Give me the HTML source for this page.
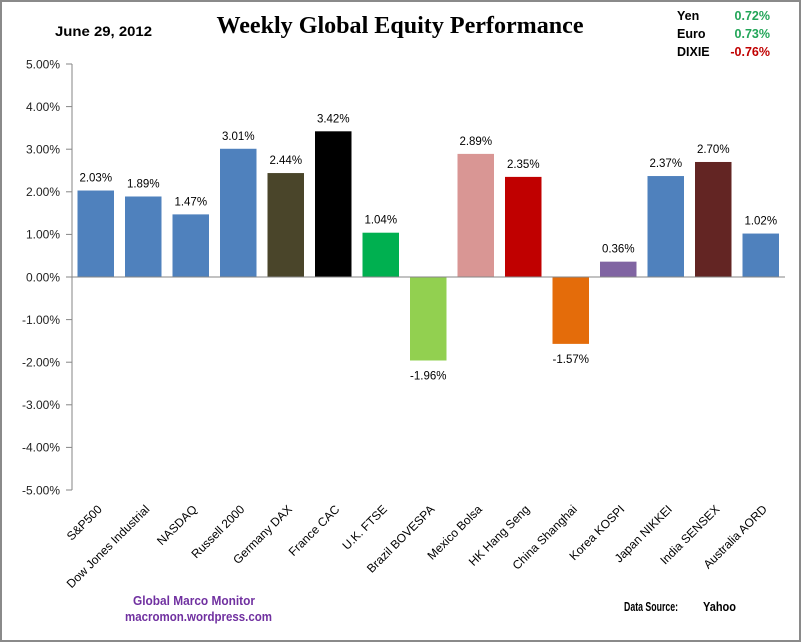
<!DOCTYPE html>
<html><head><meta charset="utf-8"><style>
html,body{margin:0;padding:0;background:#fff;}
svg{display:block;}
text{font-family:"Liberation Sans",sans-serif;}
</style></head><body>
<svg width="802" height="643" viewBox="0 0 802 643" xmlns="http://www.w3.org/2000/svg">
<rect x="0" y="0" width="802" height="643" fill="#fff"/>
<rect x="1" y="1" width="799" height="640" fill="none" stroke="#8a8a8a" stroke-width="2"/>

<text x="216.5" y="33" font-family="Liberation Serif, serif" font-weight="bold" font-size="24" textLength="367" lengthAdjust="spacingAndGlyphs" style="font-family:'Liberation Serif',serif">Weekly Global Equity Performance</text>
<text x="55" y="36" font-weight="bold" font-size="14" textLength="97" lengthAdjust="spacingAndGlyphs" fill="#000">June 29, 2012</text>

<g font-weight="bold" font-size="12.5">
<text x="677" y="20" fill="#000">Yen</text>
<text x="677" y="38" fill="#000">Euro</text>
<text x="677" y="56" fill="#000">DIXIE</text>
<text x="770" y="20" text-anchor="end" fill="#22a558">0.72%</text>
<text x="770" y="38" text-anchor="end" fill="#22a558">0.73%</text>
<text x="770" y="56" text-anchor="end" fill="#c00000">-0.76%</text>
</g>

<!-- y axis -->
<g stroke="#868686" stroke-width="1">
<line x1="72" y1="64" x2="72" y2="490"/>
<line x1="66" y1="64" x2="72" y2="64"/>
<line x1="66" y1="106.6" x2="72" y2="106.6"/>
<line x1="66" y1="149.2" x2="72" y2="149.2"/>
<line x1="66" y1="191.8" x2="72" y2="191.8"/>
<line x1="66" y1="234.4" x2="72" y2="234.4"/>
<line x1="66" y1="277" x2="72" y2="277"/>
<line x1="66" y1="319.6" x2="72" y2="319.6"/>
<line x1="66" y1="362.2" x2="72" y2="362.2"/>
<line x1="66" y1="404.8" x2="72" y2="404.8"/>
<line x1="66" y1="447.4" x2="72" y2="447.4"/>
<line x1="66" y1="490" x2="72" y2="490"/>
</g>
<g font-size="12" fill="#222" text-anchor="end">
<text x="60" y="68.3">5.00%</text>
<text x="60" y="110.9">4.00%</text>
<text x="60" y="153.5">3.00%</text>
<text x="60" y="196.1">2.00%</text>
<text x="60" y="238.7">1.00%</text>
<text x="60" y="281.3">0.00%</text>
<text x="60" y="323.9">-1.00%</text>
<text x="60" y="366.5">-2.00%</text>
<text x="60" y="409.1">-3.00%</text>
<text x="60" y="451.7">-4.00%</text>
<text x="60" y="494.3">-5.00%</text>
</g>

<!-- bars -->
<rect x="77.5" y="190.52" width="36.5" height="86.48" fill="#4F81BD"/>
<rect x="125" y="196.49" width="36.5" height="80.51" fill="#4F81BD"/>
<rect x="172.5" y="214.38" width="36.5" height="62.62" fill="#4F81BD"/>
<rect x="220" y="148.77" width="36.5" height="128.23" fill="#4F81BD"/>
<rect x="267.5" y="173.06" width="36.5" height="103.94" fill="#4A452A"/>
<rect x="315" y="131.31" width="36.5" height="145.69" fill="#000000"/>
<rect x="362.5" y="232.7" width="36.5" height="44.3" fill="#00B050"/>
<rect x="410" y="277" width="36.5" height="83.5" fill="#92D050"/>
<rect x="457.5" y="153.89" width="36.5" height="123.11" fill="#D99694"/>
<rect x="505" y="176.89" width="36.5" height="100.11" fill="#C00000"/>
<rect x="552.5" y="277" width="36.5" height="66.88" fill="#E46C0A"/>
<rect x="600" y="261.66" width="36.5" height="15.34" fill="#8064A2"/>
<rect x="647.5" y="176.04" width="36.5" height="100.96" fill="#4F81BD"/>
<rect x="695" y="161.98" width="36.5" height="115.02" fill="#632523"/>
<rect x="742.5" y="233.55" width="36.5" height="43.45" fill="#4F81BD"/>

<line x1="72" y1="277" x2="785" y2="277" stroke="#868686" stroke-width="1"/>

<!-- data labels -->
<g font-size="11.5" fill="#000" text-anchor="middle">
<text x="95.75" y="181.5">2.03%</text>
<text x="143.25" y="187.5">1.89%</text>
<text x="190.75" y="205.4">1.47%</text>
<text x="238.25" y="139.8">3.01%</text>
<text x="285.75" y="164.1">2.44%</text>
<text x="333.25" y="122.3">3.42%</text>
<text x="380.75" y="223.7">1.04%</text>
<text x="428.25" y="379.5">-1.96%</text>
<text x="475.75" y="144.9">2.89%</text>
<text x="523.25" y="167.9">2.35%</text>
<text x="570.75" y="362.9">-1.57%</text>
<text x="618.25" y="252.7">0.36%</text>
<text x="665.75" y="167">2.37%</text>
<text x="713.25" y="153">2.70%</text>
<text x="760.75" y="224.6">1.02%</text>
</g>

<!-- category labels -->
<g font-size="12" fill="#000" text-anchor="end">
<text transform="translate(102.75,510) rotate(-45)">S&amp;P500</text>
<text transform="translate(150.25,510) rotate(-45)">Dow Jones Industrial</text>
<text transform="translate(197.75,510) rotate(-45)">NASDAQ</text>
<text transform="translate(245.25,510) rotate(-45)">Russell 2000</text>
<text transform="translate(292.75,510) rotate(-45)">Germany DAX</text>
<text transform="translate(340.25,510) rotate(-45)">France CAC</text>
<text transform="translate(387.75,510) rotate(-45)">U.K. FTSE</text>
<text transform="translate(435.25,510) rotate(-45)">Brazil BOVESPA</text>
<text transform="translate(482.75,510) rotate(-45)">Mexico Bolsa</text>
<text transform="translate(530.25,510) rotate(-45)">HK  Hang Seng</text>
<text transform="translate(577.75,510) rotate(-45)">China Shanghai</text>
<text transform="translate(625.25,510) rotate(-45)">Korea KOSPI</text>
<text transform="translate(672.75,510) rotate(-45)">Japan NIKKEI</text>
<text transform="translate(720.25,510) rotate(-45)">India SENSEX</text>
<text transform="translate(767.75,510) rotate(-45)">Australia AORD</text>
</g>

<!-- footer -->
<g font-weight="bold" font-size="12.5" fill="#7030A0">
<text x="133" y="605" textLength="122" lengthAdjust="spacingAndGlyphs">Global  Marco  Monitor</text>
<text x="125" y="621" textLength="147" lengthAdjust="spacingAndGlyphs">macromon.wordpress.com</text>
</g>
<g font-weight="bold" font-size="12.5" fill="#000">
<text x="624" y="611" textLength="54" lengthAdjust="spacingAndGlyphs">Data Source:</text>
<text x="703" y="611" textLength="33" lengthAdjust="spacingAndGlyphs">Yahoo</text>
</g>
</svg>
</body></html>
